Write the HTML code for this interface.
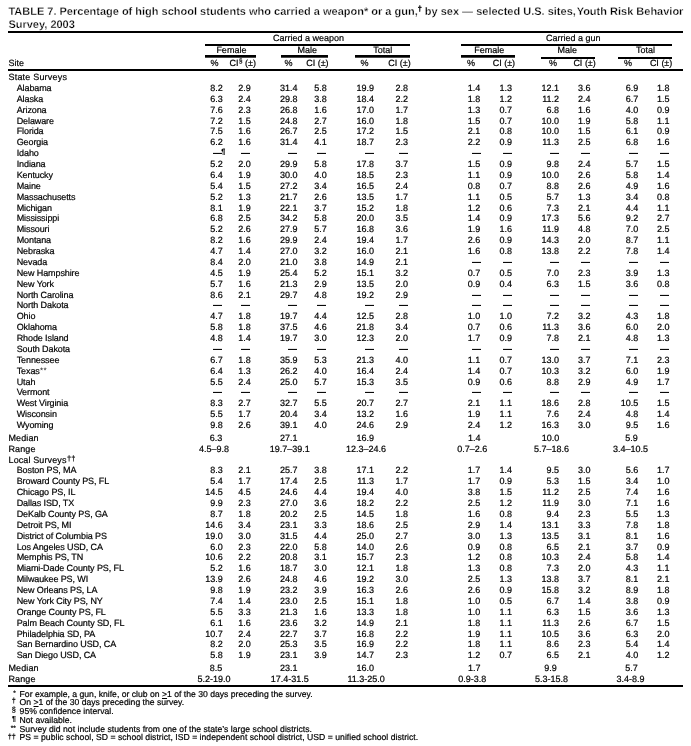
<!DOCTYPE html>
<html><head><meta charset="utf-8"><title>TABLE 7</title>
<style>
html,body{margin:0;padding:0;background:#fff;}
body{width:691px;height:746px;position:relative;overflow:hidden;will-change:transform;text-rendering:geometricPrecision;font-family:"Liberation Sans",sans-serif;color:#000;}
div{position:absolute;white-space:nowrap;margin:0;padding:0;-webkit-text-stroke:0.2px #000;}
.r{font-size:0;line-height:0;}
.b{font-weight:bold;-webkit-text-stroke:0.28px #fff;}
sup{font-size:84%;vertical-align:baseline;position:relative;top:-0.3em;line-height:0;letter-spacing:0;margin-left:0.4px;}
.s2{font-size:70%;top:-0.4em;}
.s3{font-size:66%;top:-0.5em;margin-left:0;-webkit-text-stroke:0.35px #000;}
u{text-decoration:underline;}
</style></head><body>
<div class="b t1" style="left:8.40px;top:6px;font-size:11.0px;line-height:12px;">TABLE 7. Percentage of high school students who carried a weapon* or a gun,<sup class="s3">†</sup> by sex — selected U.S. sites,<span style="margin-left:0.8px"></span>Youth Risk Behavior</div>
<div class="b t1" style="left:8.40px;top:19px;font-size:11.0px;line-height:12px;">Survey, 2003</div>
<div class="r" style="left:8.00px;top:31.00px;width:675.00px;height:2.00px;background:#000"></div>
<div class="r" style="left:8.00px;top:69.00px;width:675.00px;height:2.00px;background:#000"></div>
<div class="r" style="left:8.00px;top:685.00px;width:675.00px;height:2.00px;background:#000"></div>
<div class="r" style="left:205.00px;top:44.00px;width:205.00px;height:2.00px;background:#000"></div>
<div class="r" style="left:461.00px;top:44.00px;width:211.00px;height:2.00px;background:#000"></div>
<div class="r" style="left:205.00px;top:55.00px;width:51.00px;height:2.00px;background:#000"></div>
<div class="r" style="left:205.00px;top:57.00px;width:51.00px;height:1.00px;background:#4a4a4a"></div>
<div class="r" style="left:281.00px;top:55.00px;width:47.00px;height:2.00px;background:#000"></div>
<div class="r" style="left:281.00px;top:57.00px;width:47.00px;height:1.00px;background:#4a4a4a"></div>
<div class="r" style="left:355.00px;top:55.00px;width:55.00px;height:2.00px;background:#000"></div>
<div class="r" style="left:355.00px;top:57.00px;width:55.00px;height:1.00px;background:#4a4a4a"></div>
<div class="r" style="left:461.00px;top:55.00px;width:54.00px;height:2.00px;background:#000"></div>
<div class="r" style="left:461.00px;top:57.00px;width:54.00px;height:1.00px;background:#4a4a4a"></div>
<div class="r" style="left:541.00px;top:57.00px;width:54.00px;height:2.00px;background:#000"></div>
<div class="r" style="left:618.00px;top:57.00px;width:54.00px;height:2.00px;background:#000"></div>
<div style="left:208.60px;width:200px;text-align:center;top:33px;font-size:9.0px;line-height:10px;">Carried a weapon</div>
<div style="left:473.30px;width:200px;text-align:center;top:33px;font-size:9.0px;line-height:10px;">Carried a gun</div>
<div style="left:131.40px;width:200px;text-align:center;top:45px;font-size:9.0px;line-height:10px;">Female</div>
<div style="left:207.20px;width:200px;text-align:center;top:45px;font-size:9.0px;line-height:10px;">Male</div>
<div style="left:282.80px;width:200px;text-align:center;top:45px;font-size:9.0px;line-height:10px;">Total</div>
<div style="left:389.20px;width:200px;text-align:center;top:45px;font-size:9.0px;line-height:10px;">Female</div>
<div style="left:467.20px;width:200px;text-align:center;top:45px;font-size:9.0px;line-height:10px;">Male</div>
<div style="left:545.50px;width:200px;text-align:center;top:45px;font-size:9.0px;line-height:10px;">Total</div>
<div style="left:8.50px;top:58px;font-size:9.0px;line-height:10px;">Site</div>
<div style="left:210.60px;top:58px;font-size:9.0px;line-height:10px;">%</div>
<div style="right:435.10px;top:58px;font-size:9.0px;line-height:10px;">CI<sup class="s2">§</sup> (±)</div>
<div style="left:284.50px;top:58px;font-size:9.0px;line-height:10px;">%</div>
<div style="right:362.40px;top:58px;font-size:9.0px;line-height:10px;">CI (±)</div>
<div style="left:360.60px;top:58px;font-size:9.0px;line-height:10px;">%</div>
<div style="right:280.30px;top:58px;font-size:9.0px;line-height:10px;">CI (±)</div>
<div style="left:467.00px;top:58px;font-size:9.0px;line-height:10px;">%</div>
<div style="right:175.90px;top:58px;font-size:9.0px;line-height:10px;">CI (±)</div>
<div style="left:549.00px;top:58px;font-size:9.0px;line-height:10px;">%</div>
<div style="right:95.20px;top:58px;font-size:9.0px;line-height:10px;">CI (±)</div>
<div style="left:624.10px;top:58px;font-size:9.0px;line-height:10px;">%</div>
<div style="right:18.70px;top:58px;font-size:9.0px;line-height:10px;">CI (±)</div>
<div style="left:8.50px;top:72px;font-size:9.0px;line-height:10px;letter-spacing:0.2px;">State Surveys</div>
<div style="left:16.70px;top:83px;font-size:9.0px;line-height:10px;letter-spacing:-0.1px;">Alabama</div>
<div style="right:468.30px;top:83px;font-size:9.0px;line-height:10px;">8.2</div>
<div style="right:440.30px;top:83px;font-size:9.0px;line-height:10px;">2.9</div>
<div style="right:393.60px;top:83px;font-size:9.0px;line-height:10px;">31.4</div>
<div style="right:364.30px;top:83px;font-size:9.0px;line-height:10px;">5.8</div>
<div style="right:317.00px;top:83px;font-size:9.0px;line-height:10px;">19.9</div>
<div style="right:282.90px;top:83px;font-size:9.0px;line-height:10px;">2.8</div>
<div style="right:210.70px;top:83px;font-size:9.0px;line-height:10px;">1.4</div>
<div style="right:179.00px;top:83px;font-size:9.0px;line-height:10px;">1.3</div>
<div style="right:131.90px;top:83px;font-size:9.0px;line-height:10px;">12.1</div>
<div style="right:100.40px;top:83px;font-size:9.0px;line-height:10px;">3.6</div>
<div style="right:52.70px;top:83px;font-size:9.0px;line-height:10px;">6.9</div>
<div style="right:21.40px;top:83px;font-size:9.0px;line-height:10px;">1.8</div>
<div style="left:16.70px;top:94px;font-size:9.0px;line-height:10px;letter-spacing:-0.1px;">Alaska</div>
<div style="right:468.30px;top:94px;font-size:9.0px;line-height:10px;">6.3</div>
<div style="right:440.30px;top:94px;font-size:9.0px;line-height:10px;">2.4</div>
<div style="right:393.60px;top:94px;font-size:9.0px;line-height:10px;">29.8</div>
<div style="right:364.30px;top:94px;font-size:9.0px;line-height:10px;">3.8</div>
<div style="right:317.00px;top:94px;font-size:9.0px;line-height:10px;">18.4</div>
<div style="right:282.90px;top:94px;font-size:9.0px;line-height:10px;">2.2</div>
<div style="right:210.70px;top:94px;font-size:9.0px;line-height:10px;">1.8</div>
<div style="right:179.00px;top:94px;font-size:9.0px;line-height:10px;">1.2</div>
<div style="right:131.90px;top:94px;font-size:9.0px;line-height:10px;">11.2</div>
<div style="right:100.40px;top:94px;font-size:9.0px;line-height:10px;">2.4</div>
<div style="right:52.70px;top:94px;font-size:9.0px;line-height:10px;">6.7</div>
<div style="right:21.40px;top:94px;font-size:9.0px;line-height:10px;">1.5</div>
<div style="left:16.70px;top:105px;font-size:9.0px;line-height:10px;letter-spacing:-0.1px;">Arizona</div>
<div style="right:468.30px;top:105px;font-size:9.0px;line-height:10px;">7.6</div>
<div style="right:440.30px;top:105px;font-size:9.0px;line-height:10px;">2.3</div>
<div style="right:393.60px;top:105px;font-size:9.0px;line-height:10px;">26.8</div>
<div style="right:364.30px;top:105px;font-size:9.0px;line-height:10px;">1.6</div>
<div style="right:317.00px;top:105px;font-size:9.0px;line-height:10px;">17.0</div>
<div style="right:282.90px;top:105px;font-size:9.0px;line-height:10px;">1.7</div>
<div style="right:210.70px;top:105px;font-size:9.0px;line-height:10px;">1.3</div>
<div style="right:179.00px;top:105px;font-size:9.0px;line-height:10px;">0.7</div>
<div style="right:131.90px;top:105px;font-size:9.0px;line-height:10px;">6.8</div>
<div style="right:100.40px;top:105px;font-size:9.0px;line-height:10px;">1.6</div>
<div style="right:52.70px;top:105px;font-size:9.0px;line-height:10px;">4.0</div>
<div style="right:21.40px;top:105px;font-size:9.0px;line-height:10px;">0.9</div>
<div style="left:16.70px;top:116px;font-size:9.0px;line-height:10px;letter-spacing:-0.1px;">Delaware</div>
<div style="right:468.30px;top:116px;font-size:9.0px;line-height:10px;">7.2</div>
<div style="right:440.30px;top:116px;font-size:9.0px;line-height:10px;">1.5</div>
<div style="right:393.60px;top:116px;font-size:9.0px;line-height:10px;">24.8</div>
<div style="right:364.30px;top:116px;font-size:9.0px;line-height:10px;">2.7</div>
<div style="right:317.00px;top:116px;font-size:9.0px;line-height:10px;">16.0</div>
<div style="right:282.90px;top:116px;font-size:9.0px;line-height:10px;">1.8</div>
<div style="right:210.70px;top:116px;font-size:9.0px;line-height:10px;">1.5</div>
<div style="right:179.00px;top:116px;font-size:9.0px;line-height:10px;">0.7</div>
<div style="right:131.90px;top:116px;font-size:9.0px;line-height:10px;">10.0</div>
<div style="right:100.40px;top:116px;font-size:9.0px;line-height:10px;">1.9</div>
<div style="right:52.70px;top:116px;font-size:9.0px;line-height:10px;">5.8</div>
<div style="right:21.40px;top:116px;font-size:9.0px;line-height:10px;">1.1</div>
<div style="left:16.70px;top:126px;font-size:9.0px;line-height:10px;letter-spacing:-0.1px;">Florida</div>
<div style="right:468.30px;top:126px;font-size:9.0px;line-height:10px;">7.5</div>
<div style="right:440.30px;top:126px;font-size:9.0px;line-height:10px;">1.6</div>
<div style="right:393.60px;top:126px;font-size:9.0px;line-height:10px;">26.7</div>
<div style="right:364.30px;top:126px;font-size:9.0px;line-height:10px;">2.5</div>
<div style="right:317.00px;top:126px;font-size:9.0px;line-height:10px;">17.2</div>
<div style="right:282.90px;top:126px;font-size:9.0px;line-height:10px;">1.5</div>
<div style="right:210.70px;top:126px;font-size:9.0px;line-height:10px;">2.1</div>
<div style="right:179.00px;top:126px;font-size:9.0px;line-height:10px;">0.8</div>
<div style="right:131.90px;top:126px;font-size:9.0px;line-height:10px;">10.0</div>
<div style="right:100.40px;top:126px;font-size:9.0px;line-height:10px;">1.5</div>
<div style="right:52.70px;top:126px;font-size:9.0px;line-height:10px;">6.1</div>
<div style="right:21.40px;top:126px;font-size:9.0px;line-height:10px;">0.9</div>
<div style="left:16.70px;top:137px;font-size:9.0px;line-height:10px;letter-spacing:-0.1px;">Georgia</div>
<div style="right:468.30px;top:137px;font-size:9.0px;line-height:10px;">6.2</div>
<div style="right:440.30px;top:137px;font-size:9.0px;line-height:10px;">1.6</div>
<div style="right:393.60px;top:137px;font-size:9.0px;line-height:10px;">31.4</div>
<div style="right:364.30px;top:137px;font-size:9.0px;line-height:10px;">4.1</div>
<div style="right:317.00px;top:137px;font-size:9.0px;line-height:10px;">18.7</div>
<div style="right:282.90px;top:137px;font-size:9.0px;line-height:10px;">2.3</div>
<div style="right:210.70px;top:137px;font-size:9.0px;line-height:10px;">2.2</div>
<div style="right:179.00px;top:137px;font-size:9.0px;line-height:10px;">0.9</div>
<div style="right:131.90px;top:137px;font-size:9.0px;line-height:10px;">11.3</div>
<div style="right:100.40px;top:137px;font-size:9.0px;line-height:10px;">2.5</div>
<div style="right:52.70px;top:137px;font-size:9.0px;line-height:10px;">6.8</div>
<div style="right:21.40px;top:137px;font-size:9.0px;line-height:10px;">1.6</div>
<div style="left:16.70px;top:148px;font-size:9.0px;line-height:10px;letter-spacing:-0.1px;">Idaho</div>
<div class="r" style="left:213.00px;top:153.00px;width:9.00px;height:1.00px;background:#0a0a0a"></div>
<div class="r" style="left:213.00px;top:152.00px;width:9.00px;height:1.00px;background:#e4e4e4"></div>
<div class="r" style="left:241.00px;top:153.00px;width:9.00px;height:1.00px;background:#0a0a0a"></div>
<div class="r" style="left:241.00px;top:152.00px;width:9.00px;height:1.00px;background:#e4e4e4"></div>
<div class="r" style="left:288.00px;top:153.00px;width:9.00px;height:1.00px;background:#0a0a0a"></div>
<div class="r" style="left:288.00px;top:152.00px;width:9.00px;height:1.00px;background:#e4e4e4"></div>
<div class="r" style="left:317.00px;top:153.00px;width:9.00px;height:1.00px;background:#0a0a0a"></div>
<div class="r" style="left:317.00px;top:152.00px;width:9.00px;height:1.00px;background:#e4e4e4"></div>
<div class="r" style="left:365.00px;top:153.00px;width:9.00px;height:1.00px;background:#0a0a0a"></div>
<div class="r" style="left:365.00px;top:152.00px;width:9.00px;height:1.00px;background:#e4e4e4"></div>
<div class="r" style="left:399.00px;top:153.00px;width:9.00px;height:1.00px;background:#0a0a0a"></div>
<div class="r" style="left:399.00px;top:152.00px;width:9.00px;height:1.00px;background:#e4e4e4"></div>
<div class="r" style="left:472.00px;top:153.00px;width:9.00px;height:1.00px;background:#0a0a0a"></div>
<div class="r" style="left:472.00px;top:152.00px;width:9.00px;height:1.00px;background:#e4e4e4"></div>
<div class="r" style="left:503.00px;top:153.00px;width:9.00px;height:1.00px;background:#0a0a0a"></div>
<div class="r" style="left:503.00px;top:152.00px;width:9.00px;height:1.00px;background:#e4e4e4"></div>
<div class="r" style="left:550.00px;top:153.00px;width:9.00px;height:1.00px;background:#0a0a0a"></div>
<div class="r" style="left:550.00px;top:152.00px;width:9.00px;height:1.00px;background:#e4e4e4"></div>
<div class="r" style="left:581.00px;top:153.00px;width:9.00px;height:1.00px;background:#0a0a0a"></div>
<div class="r" style="left:581.00px;top:152.00px;width:9.00px;height:1.00px;background:#e4e4e4"></div>
<div class="r" style="left:629.00px;top:153.00px;width:9.00px;height:1.00px;background:#0a0a0a"></div>
<div class="r" style="left:629.00px;top:152.00px;width:9.00px;height:1.00px;background:#e4e4e4"></div>
<div class="r" style="left:660.00px;top:153.00px;width:9.00px;height:1.00px;background:#0a0a0a"></div>
<div class="r" style="left:660.00px;top:152.00px;width:9.00px;height:1.00px;background:#e4e4e4"></div>
<div style="left:221.20px;top:147px;font-size:7.5px;line-height:9px;">¶</div>
<div style="left:16.70px;top:159px;font-size:9.0px;line-height:10px;letter-spacing:-0.1px;">Indiana</div>
<div style="right:468.30px;top:159px;font-size:9.0px;line-height:10px;">5.2</div>
<div style="right:440.30px;top:159px;font-size:9.0px;line-height:10px;">2.0</div>
<div style="right:393.60px;top:159px;font-size:9.0px;line-height:10px;">29.9</div>
<div style="right:364.30px;top:159px;font-size:9.0px;line-height:10px;">5.8</div>
<div style="right:317.00px;top:159px;font-size:9.0px;line-height:10px;">17.8</div>
<div style="right:282.90px;top:159px;font-size:9.0px;line-height:10px;">3.7</div>
<div style="right:210.70px;top:159px;font-size:9.0px;line-height:10px;">1.5</div>
<div style="right:179.00px;top:159px;font-size:9.0px;line-height:10px;">0.9</div>
<div style="right:131.90px;top:159px;font-size:9.0px;line-height:10px;">9.8</div>
<div style="right:100.40px;top:159px;font-size:9.0px;line-height:10px;">2.4</div>
<div style="right:52.70px;top:159px;font-size:9.0px;line-height:10px;">5.7</div>
<div style="right:21.40px;top:159px;font-size:9.0px;line-height:10px;">1.5</div>
<div style="left:16.70px;top:170px;font-size:9.0px;line-height:10px;letter-spacing:-0.1px;">Kentucky</div>
<div style="right:468.30px;top:170px;font-size:9.0px;line-height:10px;">6.4</div>
<div style="right:440.30px;top:170px;font-size:9.0px;line-height:10px;">1.9</div>
<div style="right:393.60px;top:170px;font-size:9.0px;line-height:10px;">30.0</div>
<div style="right:364.30px;top:170px;font-size:9.0px;line-height:10px;">4.0</div>
<div style="right:317.00px;top:170px;font-size:9.0px;line-height:10px;">18.5</div>
<div style="right:282.90px;top:170px;font-size:9.0px;line-height:10px;">2.3</div>
<div style="right:210.70px;top:170px;font-size:9.0px;line-height:10px;">1.1</div>
<div style="right:179.00px;top:170px;font-size:9.0px;line-height:10px;">0.9</div>
<div style="right:131.90px;top:170px;font-size:9.0px;line-height:10px;">10.0</div>
<div style="right:100.40px;top:170px;font-size:9.0px;line-height:10px;">2.6</div>
<div style="right:52.70px;top:170px;font-size:9.0px;line-height:10px;">5.8</div>
<div style="right:21.40px;top:170px;font-size:9.0px;line-height:10px;">1.4</div>
<div style="left:16.70px;top:181px;font-size:9.0px;line-height:10px;letter-spacing:-0.1px;">Maine</div>
<div style="right:468.30px;top:181px;font-size:9.0px;line-height:10px;">5.4</div>
<div style="right:440.30px;top:181px;font-size:9.0px;line-height:10px;">1.5</div>
<div style="right:393.60px;top:181px;font-size:9.0px;line-height:10px;">27.2</div>
<div style="right:364.30px;top:181px;font-size:9.0px;line-height:10px;">3.4</div>
<div style="right:317.00px;top:181px;font-size:9.0px;line-height:10px;">16.5</div>
<div style="right:282.90px;top:181px;font-size:9.0px;line-height:10px;">2.4</div>
<div style="right:210.70px;top:181px;font-size:9.0px;line-height:10px;">0.8</div>
<div style="right:179.00px;top:181px;font-size:9.0px;line-height:10px;">0.7</div>
<div style="right:131.90px;top:181px;font-size:9.0px;line-height:10px;">8.8</div>
<div style="right:100.40px;top:181px;font-size:9.0px;line-height:10px;">2.6</div>
<div style="right:52.70px;top:181px;font-size:9.0px;line-height:10px;">4.9</div>
<div style="right:21.40px;top:181px;font-size:9.0px;line-height:10px;">1.6</div>
<div style="left:16.70px;top:192px;font-size:9.0px;line-height:10px;letter-spacing:-0.1px;">Massachusetts</div>
<div style="right:468.30px;top:192px;font-size:9.0px;line-height:10px;">5.2</div>
<div style="right:440.30px;top:192px;font-size:9.0px;line-height:10px;">1.3</div>
<div style="right:393.60px;top:192px;font-size:9.0px;line-height:10px;">21.7</div>
<div style="right:364.30px;top:192px;font-size:9.0px;line-height:10px;">2.6</div>
<div style="right:317.00px;top:192px;font-size:9.0px;line-height:10px;">13.5</div>
<div style="right:282.90px;top:192px;font-size:9.0px;line-height:10px;">1.7</div>
<div style="right:210.70px;top:192px;font-size:9.0px;line-height:10px;">1.1</div>
<div style="right:179.00px;top:192px;font-size:9.0px;line-height:10px;">0.5</div>
<div style="right:131.90px;top:192px;font-size:9.0px;line-height:10px;">5.7</div>
<div style="right:100.40px;top:192px;font-size:9.0px;line-height:10px;">1.3</div>
<div style="right:52.70px;top:192px;font-size:9.0px;line-height:10px;">3.4</div>
<div style="right:21.40px;top:192px;font-size:9.0px;line-height:10px;">0.8</div>
<div style="left:16.70px;top:203px;font-size:9.0px;line-height:10px;letter-spacing:-0.1px;">Michigan</div>
<div style="right:468.30px;top:203px;font-size:9.0px;line-height:10px;">8.1</div>
<div style="right:440.30px;top:203px;font-size:9.0px;line-height:10px;">1.9</div>
<div style="right:393.60px;top:203px;font-size:9.0px;line-height:10px;">22.1</div>
<div style="right:364.30px;top:203px;font-size:9.0px;line-height:10px;">3.7</div>
<div style="right:317.00px;top:203px;font-size:9.0px;line-height:10px;">15.2</div>
<div style="right:282.90px;top:203px;font-size:9.0px;line-height:10px;">1.8</div>
<div style="right:210.70px;top:203px;font-size:9.0px;line-height:10px;">1.2</div>
<div style="right:179.00px;top:203px;font-size:9.0px;line-height:10px;">0.6</div>
<div style="right:131.90px;top:203px;font-size:9.0px;line-height:10px;">7.3</div>
<div style="right:100.40px;top:203px;font-size:9.0px;line-height:10px;">2.1</div>
<div style="right:52.70px;top:203px;font-size:9.0px;line-height:10px;">4.4</div>
<div style="right:21.40px;top:203px;font-size:9.0px;line-height:10px;">1.1</div>
<div style="left:16.70px;top:213px;font-size:9.0px;line-height:10px;letter-spacing:-0.1px;">Mississippi</div>
<div style="right:468.30px;top:213px;font-size:9.0px;line-height:10px;">6.8</div>
<div style="right:440.30px;top:213px;font-size:9.0px;line-height:10px;">2.5</div>
<div style="right:393.60px;top:213px;font-size:9.0px;line-height:10px;">34.2</div>
<div style="right:364.30px;top:213px;font-size:9.0px;line-height:10px;">5.8</div>
<div style="right:317.00px;top:213px;font-size:9.0px;line-height:10px;">20.0</div>
<div style="right:282.90px;top:213px;font-size:9.0px;line-height:10px;">3.5</div>
<div style="right:210.70px;top:213px;font-size:9.0px;line-height:10px;">1.4</div>
<div style="right:179.00px;top:213px;font-size:9.0px;line-height:10px;">0.9</div>
<div style="right:131.90px;top:213px;font-size:9.0px;line-height:10px;">17.3</div>
<div style="right:100.40px;top:213px;font-size:9.0px;line-height:10px;">5.6</div>
<div style="right:52.70px;top:213px;font-size:9.0px;line-height:10px;">9.2</div>
<div style="right:21.40px;top:213px;font-size:9.0px;line-height:10px;">2.7</div>
<div style="left:16.70px;top:224px;font-size:9.0px;line-height:10px;letter-spacing:-0.1px;">Missouri</div>
<div style="right:468.30px;top:224px;font-size:9.0px;line-height:10px;">5.2</div>
<div style="right:440.30px;top:224px;font-size:9.0px;line-height:10px;">2.6</div>
<div style="right:393.60px;top:224px;font-size:9.0px;line-height:10px;">27.9</div>
<div style="right:364.30px;top:224px;font-size:9.0px;line-height:10px;">5.7</div>
<div style="right:317.00px;top:224px;font-size:9.0px;line-height:10px;">16.8</div>
<div style="right:282.90px;top:224px;font-size:9.0px;line-height:10px;">3.6</div>
<div style="right:210.70px;top:224px;font-size:9.0px;line-height:10px;">1.9</div>
<div style="right:179.00px;top:224px;font-size:9.0px;line-height:10px;">1.6</div>
<div style="right:131.90px;top:224px;font-size:9.0px;line-height:10px;">11.9</div>
<div style="right:100.40px;top:224px;font-size:9.0px;line-height:10px;">4.8</div>
<div style="right:52.70px;top:224px;font-size:9.0px;line-height:10px;">7.0</div>
<div style="right:21.40px;top:224px;font-size:9.0px;line-height:10px;">2.5</div>
<div style="left:16.70px;top:235px;font-size:9.0px;line-height:10px;letter-spacing:-0.1px;">Montana</div>
<div style="right:468.30px;top:235px;font-size:9.0px;line-height:10px;">8.2</div>
<div style="right:440.30px;top:235px;font-size:9.0px;line-height:10px;">1.6</div>
<div style="right:393.60px;top:235px;font-size:9.0px;line-height:10px;">29.9</div>
<div style="right:364.30px;top:235px;font-size:9.0px;line-height:10px;">2.4</div>
<div style="right:317.00px;top:235px;font-size:9.0px;line-height:10px;">19.4</div>
<div style="right:282.90px;top:235px;font-size:9.0px;line-height:10px;">1.7</div>
<div style="right:210.70px;top:235px;font-size:9.0px;line-height:10px;">2.6</div>
<div style="right:179.00px;top:235px;font-size:9.0px;line-height:10px;">0.9</div>
<div style="right:131.90px;top:235px;font-size:9.0px;line-height:10px;">14.3</div>
<div style="right:100.40px;top:235px;font-size:9.0px;line-height:10px;">2.0</div>
<div style="right:52.70px;top:235px;font-size:9.0px;line-height:10px;">8.7</div>
<div style="right:21.40px;top:235px;font-size:9.0px;line-height:10px;">1.1</div>
<div style="left:16.70px;top:246px;font-size:9.0px;line-height:10px;letter-spacing:-0.1px;">Nebraska</div>
<div style="right:468.30px;top:246px;font-size:9.0px;line-height:10px;">4.7</div>
<div style="right:440.30px;top:246px;font-size:9.0px;line-height:10px;">1.4</div>
<div style="right:393.60px;top:246px;font-size:9.0px;line-height:10px;">27.0</div>
<div style="right:364.30px;top:246px;font-size:9.0px;line-height:10px;">3.2</div>
<div style="right:317.00px;top:246px;font-size:9.0px;line-height:10px;">16.0</div>
<div style="right:282.90px;top:246px;font-size:9.0px;line-height:10px;">2.1</div>
<div style="right:210.70px;top:246px;font-size:9.0px;line-height:10px;">1.6</div>
<div style="right:179.00px;top:246px;font-size:9.0px;line-height:10px;">0.8</div>
<div style="right:131.90px;top:246px;font-size:9.0px;line-height:10px;">13.8</div>
<div style="right:100.40px;top:246px;font-size:9.0px;line-height:10px;">2.2</div>
<div style="right:52.70px;top:246px;font-size:9.0px;line-height:10px;">7.8</div>
<div style="right:21.40px;top:246px;font-size:9.0px;line-height:10px;">1.4</div>
<div style="left:16.70px;top:257px;font-size:9.0px;line-height:10px;letter-spacing:-0.1px;">Nevada</div>
<div style="right:468.30px;top:257px;font-size:9.0px;line-height:10px;">8.4</div>
<div style="right:440.30px;top:257px;font-size:9.0px;line-height:10px;">2.0</div>
<div style="right:393.60px;top:257px;font-size:9.0px;line-height:10px;">21.0</div>
<div style="right:364.30px;top:257px;font-size:9.0px;line-height:10px;">3.8</div>
<div style="right:317.00px;top:257px;font-size:9.0px;line-height:10px;">14.9</div>
<div style="right:282.90px;top:257px;font-size:9.0px;line-height:10px;">2.1</div>
<div class="r" style="left:472.00px;top:262.00px;width:9.00px;height:1.00px;background:#0a0a0a"></div>
<div class="r" style="left:472.00px;top:261.00px;width:9.00px;height:1.00px;background:#e4e4e4"></div>
<div class="r" style="left:503.00px;top:262.00px;width:9.00px;height:1.00px;background:#0a0a0a"></div>
<div class="r" style="left:503.00px;top:261.00px;width:9.00px;height:1.00px;background:#e4e4e4"></div>
<div class="r" style="left:550.00px;top:262.00px;width:9.00px;height:1.00px;background:#0a0a0a"></div>
<div class="r" style="left:550.00px;top:261.00px;width:9.00px;height:1.00px;background:#e4e4e4"></div>
<div class="r" style="left:581.00px;top:262.00px;width:9.00px;height:1.00px;background:#0a0a0a"></div>
<div class="r" style="left:581.00px;top:261.00px;width:9.00px;height:1.00px;background:#e4e4e4"></div>
<div class="r" style="left:629.00px;top:262.00px;width:9.00px;height:1.00px;background:#0a0a0a"></div>
<div class="r" style="left:629.00px;top:261.00px;width:9.00px;height:1.00px;background:#e4e4e4"></div>
<div class="r" style="left:660.00px;top:262.00px;width:9.00px;height:1.00px;background:#0a0a0a"></div>
<div class="r" style="left:660.00px;top:261.00px;width:9.00px;height:1.00px;background:#e4e4e4"></div>
<div style="left:16.70px;top:268px;font-size:9.0px;line-height:10px;letter-spacing:-0.1px;">New Hampshire</div>
<div style="right:468.30px;top:268px;font-size:9.0px;line-height:10px;">4.5</div>
<div style="right:440.30px;top:268px;font-size:9.0px;line-height:10px;">1.9</div>
<div style="right:393.60px;top:268px;font-size:9.0px;line-height:10px;">25.4</div>
<div style="right:364.30px;top:268px;font-size:9.0px;line-height:10px;">5.2</div>
<div style="right:317.00px;top:268px;font-size:9.0px;line-height:10px;">15.1</div>
<div style="right:282.90px;top:268px;font-size:9.0px;line-height:10px;">3.2</div>
<div style="right:210.70px;top:268px;font-size:9.0px;line-height:10px;">0.7</div>
<div style="right:179.00px;top:268px;font-size:9.0px;line-height:10px;">0.5</div>
<div style="right:131.90px;top:268px;font-size:9.0px;line-height:10px;">7.0</div>
<div style="right:100.40px;top:268px;font-size:9.0px;line-height:10px;">2.3</div>
<div style="right:52.70px;top:268px;font-size:9.0px;line-height:10px;">3.9</div>
<div style="right:21.40px;top:268px;font-size:9.0px;line-height:10px;">1.3</div>
<div style="left:16.70px;top:279px;font-size:9.0px;line-height:10px;letter-spacing:-0.1px;">New York</div>
<div style="right:468.30px;top:279px;font-size:9.0px;line-height:10px;">5.7</div>
<div style="right:440.30px;top:279px;font-size:9.0px;line-height:10px;">1.6</div>
<div style="right:393.60px;top:279px;font-size:9.0px;line-height:10px;">21.3</div>
<div style="right:364.30px;top:279px;font-size:9.0px;line-height:10px;">2.9</div>
<div style="right:317.00px;top:279px;font-size:9.0px;line-height:10px;">13.5</div>
<div style="right:282.90px;top:279px;font-size:9.0px;line-height:10px;">2.0</div>
<div style="right:210.70px;top:279px;font-size:9.0px;line-height:10px;">0.9</div>
<div style="right:179.00px;top:279px;font-size:9.0px;line-height:10px;">0.4</div>
<div style="right:131.90px;top:279px;font-size:9.0px;line-height:10px;">6.3</div>
<div style="right:100.40px;top:279px;font-size:9.0px;line-height:10px;">1.5</div>
<div style="right:52.70px;top:279px;font-size:9.0px;line-height:10px;">3.6</div>
<div style="right:21.40px;top:279px;font-size:9.0px;line-height:10px;">0.8</div>
<div style="left:16.70px;top:290px;font-size:9.0px;line-height:10px;letter-spacing:-0.1px;">North Carolina</div>
<div style="right:468.30px;top:290px;font-size:9.0px;line-height:10px;">8.6</div>
<div style="right:440.30px;top:290px;font-size:9.0px;line-height:10px;">2.1</div>
<div style="right:393.60px;top:290px;font-size:9.0px;line-height:10px;">29.7</div>
<div style="right:364.30px;top:290px;font-size:9.0px;line-height:10px;">4.8</div>
<div style="right:317.00px;top:290px;font-size:9.0px;line-height:10px;">19.2</div>
<div style="right:282.90px;top:290px;font-size:9.0px;line-height:10px;">2.9</div>
<div class="r" style="left:472.00px;top:295.00px;width:9.00px;height:1.00px;background:#0a0a0a"></div>
<div class="r" style="left:472.00px;top:294.00px;width:9.00px;height:1.00px;background:#e4e4e4"></div>
<div class="r" style="left:503.00px;top:295.00px;width:9.00px;height:1.00px;background:#0a0a0a"></div>
<div class="r" style="left:503.00px;top:294.00px;width:9.00px;height:1.00px;background:#e4e4e4"></div>
<div class="r" style="left:550.00px;top:295.00px;width:9.00px;height:1.00px;background:#0a0a0a"></div>
<div class="r" style="left:550.00px;top:294.00px;width:9.00px;height:1.00px;background:#e4e4e4"></div>
<div class="r" style="left:581.00px;top:295.00px;width:9.00px;height:1.00px;background:#0a0a0a"></div>
<div class="r" style="left:581.00px;top:294.00px;width:9.00px;height:1.00px;background:#e4e4e4"></div>
<div class="r" style="left:629.00px;top:295.00px;width:9.00px;height:1.00px;background:#0a0a0a"></div>
<div class="r" style="left:629.00px;top:294.00px;width:9.00px;height:1.00px;background:#e4e4e4"></div>
<div class="r" style="left:660.00px;top:295.00px;width:9.00px;height:1.00px;background:#0a0a0a"></div>
<div class="r" style="left:660.00px;top:294.00px;width:9.00px;height:1.00px;background:#e4e4e4"></div>
<div style="left:16.70px;top:300px;font-size:9.0px;line-height:10px;letter-spacing:-0.1px;">North Dakota</div>
<div class="r" style="left:213.00px;top:305.00px;width:9.00px;height:1.00px;background:#0a0a0a"></div>
<div class="r" style="left:213.00px;top:304.00px;width:9.00px;height:1.00px;background:#e4e4e4"></div>
<div class="r" style="left:241.00px;top:305.00px;width:9.00px;height:1.00px;background:#0a0a0a"></div>
<div class="r" style="left:241.00px;top:304.00px;width:9.00px;height:1.00px;background:#e4e4e4"></div>
<div class="r" style="left:288.00px;top:305.00px;width:9.00px;height:1.00px;background:#0a0a0a"></div>
<div class="r" style="left:288.00px;top:304.00px;width:9.00px;height:1.00px;background:#e4e4e4"></div>
<div class="r" style="left:317.00px;top:305.00px;width:9.00px;height:1.00px;background:#0a0a0a"></div>
<div class="r" style="left:317.00px;top:304.00px;width:9.00px;height:1.00px;background:#e4e4e4"></div>
<div class="r" style="left:365.00px;top:305.00px;width:9.00px;height:1.00px;background:#0a0a0a"></div>
<div class="r" style="left:365.00px;top:304.00px;width:9.00px;height:1.00px;background:#e4e4e4"></div>
<div class="r" style="left:399.00px;top:305.00px;width:9.00px;height:1.00px;background:#0a0a0a"></div>
<div class="r" style="left:399.00px;top:304.00px;width:9.00px;height:1.00px;background:#e4e4e4"></div>
<div class="r" style="left:472.00px;top:305.00px;width:9.00px;height:1.00px;background:#0a0a0a"></div>
<div class="r" style="left:472.00px;top:304.00px;width:9.00px;height:1.00px;background:#e4e4e4"></div>
<div class="r" style="left:503.00px;top:305.00px;width:9.00px;height:1.00px;background:#0a0a0a"></div>
<div class="r" style="left:503.00px;top:304.00px;width:9.00px;height:1.00px;background:#e4e4e4"></div>
<div class="r" style="left:550.00px;top:305.00px;width:9.00px;height:1.00px;background:#0a0a0a"></div>
<div class="r" style="left:550.00px;top:304.00px;width:9.00px;height:1.00px;background:#e4e4e4"></div>
<div class="r" style="left:581.00px;top:305.00px;width:9.00px;height:1.00px;background:#0a0a0a"></div>
<div class="r" style="left:581.00px;top:304.00px;width:9.00px;height:1.00px;background:#e4e4e4"></div>
<div class="r" style="left:629.00px;top:305.00px;width:9.00px;height:1.00px;background:#0a0a0a"></div>
<div class="r" style="left:629.00px;top:304.00px;width:9.00px;height:1.00px;background:#e4e4e4"></div>
<div class="r" style="left:660.00px;top:305.00px;width:9.00px;height:1.00px;background:#0a0a0a"></div>
<div class="r" style="left:660.00px;top:304.00px;width:9.00px;height:1.00px;background:#e4e4e4"></div>
<div style="left:16.70px;top:311px;font-size:9.0px;line-height:10px;letter-spacing:-0.1px;">Ohio</div>
<div style="right:468.30px;top:311px;font-size:9.0px;line-height:10px;">4.7</div>
<div style="right:440.30px;top:311px;font-size:9.0px;line-height:10px;">1.8</div>
<div style="right:393.60px;top:311px;font-size:9.0px;line-height:10px;">19.7</div>
<div style="right:364.30px;top:311px;font-size:9.0px;line-height:10px;">4.4</div>
<div style="right:317.00px;top:311px;font-size:9.0px;line-height:10px;">12.5</div>
<div style="right:282.90px;top:311px;font-size:9.0px;line-height:10px;">2.8</div>
<div style="right:210.70px;top:311px;font-size:9.0px;line-height:10px;">1.0</div>
<div style="right:179.00px;top:311px;font-size:9.0px;line-height:10px;">1.0</div>
<div style="right:131.90px;top:311px;font-size:9.0px;line-height:10px;">7.2</div>
<div style="right:100.40px;top:311px;font-size:9.0px;line-height:10px;">3.2</div>
<div style="right:52.70px;top:311px;font-size:9.0px;line-height:10px;">4.3</div>
<div style="right:21.40px;top:311px;font-size:9.0px;line-height:10px;">1.8</div>
<div style="left:16.70px;top:322px;font-size:9.0px;line-height:10px;letter-spacing:-0.1px;">Oklahoma</div>
<div style="right:468.30px;top:322px;font-size:9.0px;line-height:10px;">5.8</div>
<div style="right:440.30px;top:322px;font-size:9.0px;line-height:10px;">1.8</div>
<div style="right:393.60px;top:322px;font-size:9.0px;line-height:10px;">37.5</div>
<div style="right:364.30px;top:322px;font-size:9.0px;line-height:10px;">4.6</div>
<div style="right:317.00px;top:322px;font-size:9.0px;line-height:10px;">21.8</div>
<div style="right:282.90px;top:322px;font-size:9.0px;line-height:10px;">3.4</div>
<div style="right:210.70px;top:322px;font-size:9.0px;line-height:10px;">0.7</div>
<div style="right:179.00px;top:322px;font-size:9.0px;line-height:10px;">0.6</div>
<div style="right:131.90px;top:322px;font-size:9.0px;line-height:10px;">11.3</div>
<div style="right:100.40px;top:322px;font-size:9.0px;line-height:10px;">3.6</div>
<div style="right:52.70px;top:322px;font-size:9.0px;line-height:10px;">6.0</div>
<div style="right:21.40px;top:322px;font-size:9.0px;line-height:10px;">2.0</div>
<div style="left:16.70px;top:333px;font-size:9.0px;line-height:10px;letter-spacing:-0.1px;">Rhode Island</div>
<div style="right:468.30px;top:333px;font-size:9.0px;line-height:10px;">4.8</div>
<div style="right:440.30px;top:333px;font-size:9.0px;line-height:10px;">1.4</div>
<div style="right:393.60px;top:333px;font-size:9.0px;line-height:10px;">19.7</div>
<div style="right:364.30px;top:333px;font-size:9.0px;line-height:10px;">3.0</div>
<div style="right:317.00px;top:333px;font-size:9.0px;line-height:10px;">12.3</div>
<div style="right:282.90px;top:333px;font-size:9.0px;line-height:10px;">2.0</div>
<div style="right:210.70px;top:333px;font-size:9.0px;line-height:10px;">1.7</div>
<div style="right:179.00px;top:333px;font-size:9.0px;line-height:10px;">0.9</div>
<div style="right:131.90px;top:333px;font-size:9.0px;line-height:10px;">7.8</div>
<div style="right:100.40px;top:333px;font-size:9.0px;line-height:10px;">2.1</div>
<div style="right:52.70px;top:333px;font-size:9.0px;line-height:10px;">4.8</div>
<div style="right:21.40px;top:333px;font-size:9.0px;line-height:10px;">1.3</div>
<div style="left:16.70px;top:344px;font-size:9.0px;line-height:10px;letter-spacing:-0.1px;">South Dakota</div>
<div class="r" style="left:213.00px;top:349.00px;width:9.00px;height:1.00px;background:#0a0a0a"></div>
<div class="r" style="left:213.00px;top:348.00px;width:9.00px;height:1.00px;background:#e4e4e4"></div>
<div class="r" style="left:241.00px;top:349.00px;width:9.00px;height:1.00px;background:#0a0a0a"></div>
<div class="r" style="left:241.00px;top:348.00px;width:9.00px;height:1.00px;background:#e4e4e4"></div>
<div class="r" style="left:288.00px;top:349.00px;width:9.00px;height:1.00px;background:#0a0a0a"></div>
<div class="r" style="left:288.00px;top:348.00px;width:9.00px;height:1.00px;background:#e4e4e4"></div>
<div class="r" style="left:317.00px;top:349.00px;width:9.00px;height:1.00px;background:#0a0a0a"></div>
<div class="r" style="left:317.00px;top:348.00px;width:9.00px;height:1.00px;background:#e4e4e4"></div>
<div class="r" style="left:365.00px;top:349.00px;width:9.00px;height:1.00px;background:#0a0a0a"></div>
<div class="r" style="left:365.00px;top:348.00px;width:9.00px;height:1.00px;background:#e4e4e4"></div>
<div class="r" style="left:399.00px;top:349.00px;width:9.00px;height:1.00px;background:#0a0a0a"></div>
<div class="r" style="left:399.00px;top:348.00px;width:9.00px;height:1.00px;background:#e4e4e4"></div>
<div class="r" style="left:472.00px;top:349.00px;width:9.00px;height:1.00px;background:#0a0a0a"></div>
<div class="r" style="left:472.00px;top:348.00px;width:9.00px;height:1.00px;background:#e4e4e4"></div>
<div class="r" style="left:503.00px;top:349.00px;width:9.00px;height:1.00px;background:#0a0a0a"></div>
<div class="r" style="left:503.00px;top:348.00px;width:9.00px;height:1.00px;background:#e4e4e4"></div>
<div class="r" style="left:550.00px;top:349.00px;width:9.00px;height:1.00px;background:#0a0a0a"></div>
<div class="r" style="left:550.00px;top:348.00px;width:9.00px;height:1.00px;background:#e4e4e4"></div>
<div class="r" style="left:581.00px;top:349.00px;width:9.00px;height:1.00px;background:#0a0a0a"></div>
<div class="r" style="left:581.00px;top:348.00px;width:9.00px;height:1.00px;background:#e4e4e4"></div>
<div class="r" style="left:629.00px;top:349.00px;width:9.00px;height:1.00px;background:#0a0a0a"></div>
<div class="r" style="left:629.00px;top:348.00px;width:9.00px;height:1.00px;background:#e4e4e4"></div>
<div class="r" style="left:660.00px;top:349.00px;width:9.00px;height:1.00px;background:#0a0a0a"></div>
<div class="r" style="left:660.00px;top:348.00px;width:9.00px;height:1.00px;background:#e4e4e4"></div>
<div style="left:16.70px;top:355px;font-size:9.0px;line-height:10px;letter-spacing:-0.1px;">Tennessee</div>
<div style="right:468.30px;top:355px;font-size:9.0px;line-height:10px;">6.7</div>
<div style="right:440.30px;top:355px;font-size:9.0px;line-height:10px;">1.8</div>
<div style="right:393.60px;top:355px;font-size:9.0px;line-height:10px;">35.9</div>
<div style="right:364.30px;top:355px;font-size:9.0px;line-height:10px;">5.3</div>
<div style="right:317.00px;top:355px;font-size:9.0px;line-height:10px;">21.3</div>
<div style="right:282.90px;top:355px;font-size:9.0px;line-height:10px;">4.0</div>
<div style="right:210.70px;top:355px;font-size:9.0px;line-height:10px;">1.1</div>
<div style="right:179.00px;top:355px;font-size:9.0px;line-height:10px;">0.7</div>
<div style="right:131.90px;top:355px;font-size:9.0px;line-height:10px;">13.0</div>
<div style="right:100.40px;top:355px;font-size:9.0px;line-height:10px;">3.7</div>
<div style="right:52.70px;top:355px;font-size:9.0px;line-height:10px;">7.1</div>
<div style="right:21.40px;top:355px;font-size:9.0px;line-height:10px;">2.3</div>
<div style="left:16.70px;top:366px;font-size:9.0px;line-height:10px;letter-spacing:-0.1px;">Texas<span style="font-size:8px;-webkit-text-stroke:0;position:relative;top:-0.7px;letter-spacing:0.5px;margin-left:0.3px">**</span></div>
<div style="right:468.30px;top:366px;font-size:9.0px;line-height:10px;">6.4</div>
<div style="right:440.30px;top:366px;font-size:9.0px;line-height:10px;">1.3</div>
<div style="right:393.60px;top:366px;font-size:9.0px;line-height:10px;">26.2</div>
<div style="right:364.30px;top:366px;font-size:9.0px;line-height:10px;">4.0</div>
<div style="right:317.00px;top:366px;font-size:9.0px;line-height:10px;">16.4</div>
<div style="right:282.90px;top:366px;font-size:9.0px;line-height:10px;">2.4</div>
<div style="right:210.70px;top:366px;font-size:9.0px;line-height:10px;">1.4</div>
<div style="right:179.00px;top:366px;font-size:9.0px;line-height:10px;">0.7</div>
<div style="right:131.90px;top:366px;font-size:9.0px;line-height:10px;">10.3</div>
<div style="right:100.40px;top:366px;font-size:9.0px;line-height:10px;">3.2</div>
<div style="right:52.70px;top:366px;font-size:9.0px;line-height:10px;">6.0</div>
<div style="right:21.40px;top:366px;font-size:9.0px;line-height:10px;">1.9</div>
<div style="left:16.70px;top:377px;font-size:9.0px;line-height:10px;letter-spacing:-0.1px;">Utah</div>
<div style="right:468.30px;top:377px;font-size:9.0px;line-height:10px;">5.5</div>
<div style="right:440.30px;top:377px;font-size:9.0px;line-height:10px;">2.4</div>
<div style="right:393.60px;top:377px;font-size:9.0px;line-height:10px;">25.0</div>
<div style="right:364.30px;top:377px;font-size:9.0px;line-height:10px;">5.7</div>
<div style="right:317.00px;top:377px;font-size:9.0px;line-height:10px;">15.3</div>
<div style="right:282.90px;top:377px;font-size:9.0px;line-height:10px;">3.5</div>
<div style="right:210.70px;top:377px;font-size:9.0px;line-height:10px;">0.9</div>
<div style="right:179.00px;top:377px;font-size:9.0px;line-height:10px;">0.6</div>
<div style="right:131.90px;top:377px;font-size:9.0px;line-height:10px;">8.8</div>
<div style="right:100.40px;top:377px;font-size:9.0px;line-height:10px;">2.9</div>
<div style="right:52.70px;top:377px;font-size:9.0px;line-height:10px;">4.9</div>
<div style="right:21.40px;top:377px;font-size:9.0px;line-height:10px;">1.7</div>
<div style="left:16.70px;top:387px;font-size:9.0px;line-height:10px;letter-spacing:-0.1px;">Vermont</div>
<div class="r" style="left:213.00px;top:392.00px;width:9.00px;height:1.00px;background:#0a0a0a"></div>
<div class="r" style="left:213.00px;top:391.00px;width:9.00px;height:1.00px;background:#e4e4e4"></div>
<div class="r" style="left:241.00px;top:392.00px;width:9.00px;height:1.00px;background:#0a0a0a"></div>
<div class="r" style="left:241.00px;top:391.00px;width:9.00px;height:1.00px;background:#e4e4e4"></div>
<div class="r" style="left:288.00px;top:392.00px;width:9.00px;height:1.00px;background:#0a0a0a"></div>
<div class="r" style="left:288.00px;top:391.00px;width:9.00px;height:1.00px;background:#e4e4e4"></div>
<div class="r" style="left:317.00px;top:392.00px;width:9.00px;height:1.00px;background:#0a0a0a"></div>
<div class="r" style="left:317.00px;top:391.00px;width:9.00px;height:1.00px;background:#e4e4e4"></div>
<div class="r" style="left:365.00px;top:392.00px;width:9.00px;height:1.00px;background:#0a0a0a"></div>
<div class="r" style="left:365.00px;top:391.00px;width:9.00px;height:1.00px;background:#e4e4e4"></div>
<div class="r" style="left:399.00px;top:392.00px;width:9.00px;height:1.00px;background:#0a0a0a"></div>
<div class="r" style="left:399.00px;top:391.00px;width:9.00px;height:1.00px;background:#e4e4e4"></div>
<div class="r" style="left:472.00px;top:392.00px;width:9.00px;height:1.00px;background:#0a0a0a"></div>
<div class="r" style="left:472.00px;top:391.00px;width:9.00px;height:1.00px;background:#e4e4e4"></div>
<div class="r" style="left:503.00px;top:392.00px;width:9.00px;height:1.00px;background:#0a0a0a"></div>
<div class="r" style="left:503.00px;top:391.00px;width:9.00px;height:1.00px;background:#e4e4e4"></div>
<div class="r" style="left:550.00px;top:392.00px;width:9.00px;height:1.00px;background:#0a0a0a"></div>
<div class="r" style="left:550.00px;top:391.00px;width:9.00px;height:1.00px;background:#e4e4e4"></div>
<div class="r" style="left:581.00px;top:392.00px;width:9.00px;height:1.00px;background:#0a0a0a"></div>
<div class="r" style="left:581.00px;top:391.00px;width:9.00px;height:1.00px;background:#e4e4e4"></div>
<div class="r" style="left:629.00px;top:392.00px;width:9.00px;height:1.00px;background:#0a0a0a"></div>
<div class="r" style="left:629.00px;top:391.00px;width:9.00px;height:1.00px;background:#e4e4e4"></div>
<div class="r" style="left:660.00px;top:392.00px;width:9.00px;height:1.00px;background:#0a0a0a"></div>
<div class="r" style="left:660.00px;top:391.00px;width:9.00px;height:1.00px;background:#e4e4e4"></div>
<div style="left:16.70px;top:398px;font-size:9.0px;line-height:10px;letter-spacing:-0.1px;">West Virginia</div>
<div style="right:468.30px;top:398px;font-size:9.0px;line-height:10px;">8.3</div>
<div style="right:440.30px;top:398px;font-size:9.0px;line-height:10px;">2.7</div>
<div style="right:393.60px;top:398px;font-size:9.0px;line-height:10px;">32.7</div>
<div style="right:364.30px;top:398px;font-size:9.0px;line-height:10px;">5.5</div>
<div style="right:317.00px;top:398px;font-size:9.0px;line-height:10px;">20.7</div>
<div style="right:282.90px;top:398px;font-size:9.0px;line-height:10px;">2.7</div>
<div style="right:210.70px;top:398px;font-size:9.0px;line-height:10px;">2.1</div>
<div style="right:179.00px;top:398px;font-size:9.0px;line-height:10px;">1.1</div>
<div style="right:131.90px;top:398px;font-size:9.0px;line-height:10px;">18.6</div>
<div style="right:100.40px;top:398px;font-size:9.0px;line-height:10px;">2.8</div>
<div style="right:52.70px;top:398px;font-size:9.0px;line-height:10px;">10.5</div>
<div style="right:21.40px;top:398px;font-size:9.0px;line-height:10px;">1.5</div>
<div style="left:16.70px;top:409px;font-size:9.0px;line-height:10px;letter-spacing:-0.1px;">Wisconsin</div>
<div style="right:468.30px;top:409px;font-size:9.0px;line-height:10px;">5.5</div>
<div style="right:440.30px;top:409px;font-size:9.0px;line-height:10px;">1.7</div>
<div style="right:393.60px;top:409px;font-size:9.0px;line-height:10px;">20.4</div>
<div style="right:364.30px;top:409px;font-size:9.0px;line-height:10px;">3.4</div>
<div style="right:317.00px;top:409px;font-size:9.0px;line-height:10px;">13.2</div>
<div style="right:282.90px;top:409px;font-size:9.0px;line-height:10px;">1.6</div>
<div style="right:210.70px;top:409px;font-size:9.0px;line-height:10px;">1.9</div>
<div style="right:179.00px;top:409px;font-size:9.0px;line-height:10px;">1.1</div>
<div style="right:131.90px;top:409px;font-size:9.0px;line-height:10px;">7.6</div>
<div style="right:100.40px;top:409px;font-size:9.0px;line-height:10px;">2.4</div>
<div style="right:52.70px;top:409px;font-size:9.0px;line-height:10px;">4.8</div>
<div style="right:21.40px;top:409px;font-size:9.0px;line-height:10px;">1.4</div>
<div style="left:16.70px;top:420px;font-size:9.0px;line-height:10px;letter-spacing:-0.1px;">Wyoming</div>
<div style="right:468.30px;top:420px;font-size:9.0px;line-height:10px;">9.8</div>
<div style="right:440.30px;top:420px;font-size:9.0px;line-height:10px;">2.6</div>
<div style="right:393.60px;top:420px;font-size:9.0px;line-height:10px;">39.1</div>
<div style="right:364.30px;top:420px;font-size:9.0px;line-height:10px;">4.0</div>
<div style="right:317.00px;top:420px;font-size:9.0px;line-height:10px;">24.6</div>
<div style="right:282.90px;top:420px;font-size:9.0px;line-height:10px;">2.9</div>
<div style="right:210.70px;top:420px;font-size:9.0px;line-height:10px;">2.4</div>
<div style="right:179.00px;top:420px;font-size:9.0px;line-height:10px;">1.2</div>
<div style="right:131.90px;top:420px;font-size:9.0px;line-height:10px;">16.3</div>
<div style="right:100.40px;top:420px;font-size:9.0px;line-height:10px;">3.0</div>
<div style="right:52.70px;top:420px;font-size:9.0px;line-height:10px;">9.5</div>
<div style="right:21.40px;top:420px;font-size:9.0px;line-height:10px;">1.6</div>
<div style="left:8.50px;top:433px;font-size:9.0px;line-height:10px;letter-spacing:0.1px;">Median</div>
<div style="left:116.00px;width:200px;text-align:center;top:433px;font-size:9.0px;line-height:10px;">6.3</div>
<div style="left:188.80px;width:200px;text-align:center;top:433px;font-size:9.0px;line-height:10px;">27.1</div>
<div style="left:265.20px;width:200px;text-align:center;top:433px;font-size:9.0px;line-height:10px;">16.9</div>
<div style="left:374.30px;width:200px;text-align:center;top:433px;font-size:9.0px;line-height:10px;">1.4</div>
<div style="left:450.60px;width:200px;text-align:center;top:433px;font-size:9.0px;line-height:10px;">10.0</div>
<div style="left:531.60px;width:200px;text-align:center;top:433px;font-size:9.0px;line-height:10px;">5.9</div>
<div style="left:8.50px;top:444px;font-size:9.0px;line-height:10px;letter-spacing:0.1px;">Range</div>
<div style="left:114.10px;width:200px;text-align:center;top:444px;font-size:9.0px;line-height:10px;">4.5–9.8</div>
<div style="left:189.70px;width:200px;text-align:center;top:444px;font-size:9.0px;line-height:10px;">19.7–39.1</div>
<div style="left:266.10px;width:200px;text-align:center;top:444px;font-size:9.0px;line-height:10px;">12.3–24.6</div>
<div style="left:372.30px;width:200px;text-align:center;top:444px;font-size:9.0px;line-height:10px;">0.7–2.6</div>
<div style="left:451.50px;width:200px;text-align:center;top:444px;font-size:9.0px;line-height:10px;">5.7–18.6</div>
<div style="left:530.50px;width:200px;text-align:center;top:444px;font-size:9.0px;line-height:10px;">3.4–10.5</div>
<div style="left:8.50px;top:455px;font-size:9.0px;line-height:10px;letter-spacing:0.12px;">Local Surveys<sup>††</sup></div>
<div style="left:16.70px;top:465px;font-size:9.0px;line-height:10px;letter-spacing:-0.1px;">Boston PS, MA</div>
<div style="right:468.30px;top:465px;font-size:9.0px;line-height:10px;">8.3</div>
<div style="right:440.30px;top:465px;font-size:9.0px;line-height:10px;">2.1</div>
<div style="right:393.60px;top:465px;font-size:9.0px;line-height:10px;">25.7</div>
<div style="right:364.30px;top:465px;font-size:9.0px;line-height:10px;">3.8</div>
<div style="right:317.00px;top:465px;font-size:9.0px;line-height:10px;">17.1</div>
<div style="right:282.90px;top:465px;font-size:9.0px;line-height:10px;">2.2</div>
<div style="right:210.70px;top:465px;font-size:9.0px;line-height:10px;">1.7</div>
<div style="right:179.00px;top:465px;font-size:9.0px;line-height:10px;">1.4</div>
<div style="right:131.90px;top:465px;font-size:9.0px;line-height:10px;">9.5</div>
<div style="right:100.40px;top:465px;font-size:9.0px;line-height:10px;">3.0</div>
<div style="right:52.70px;top:465px;font-size:9.0px;line-height:10px;">5.6</div>
<div style="right:21.40px;top:465px;font-size:9.0px;line-height:10px;">1.7</div>
<div style="left:16.70px;top:476px;font-size:9.0px;line-height:10px;letter-spacing:-0.1px;">Broward County PS, FL</div>
<div style="right:468.30px;top:476px;font-size:9.0px;line-height:10px;">5.4</div>
<div style="right:440.30px;top:476px;font-size:9.0px;line-height:10px;">1.7</div>
<div style="right:393.60px;top:476px;font-size:9.0px;line-height:10px;">17.4</div>
<div style="right:364.30px;top:476px;font-size:9.0px;line-height:10px;">2.5</div>
<div style="right:317.00px;top:476px;font-size:9.0px;line-height:10px;">11.3</div>
<div style="right:282.90px;top:476px;font-size:9.0px;line-height:10px;">1.7</div>
<div style="right:210.70px;top:476px;font-size:9.0px;line-height:10px;">1.7</div>
<div style="right:179.00px;top:476px;font-size:9.0px;line-height:10px;">0.9</div>
<div style="right:131.90px;top:476px;font-size:9.0px;line-height:10px;">5.3</div>
<div style="right:100.40px;top:476px;font-size:9.0px;line-height:10px;">1.5</div>
<div style="right:52.70px;top:476px;font-size:9.0px;line-height:10px;">3.4</div>
<div style="right:21.40px;top:476px;font-size:9.0px;line-height:10px;">1.0</div>
<div style="left:16.70px;top:487px;font-size:9.0px;line-height:10px;letter-spacing:-0.1px;">Chicago PS, IL</div>
<div style="right:468.30px;top:487px;font-size:9.0px;line-height:10px;">14.5</div>
<div style="right:440.30px;top:487px;font-size:9.0px;line-height:10px;">4.5</div>
<div style="right:393.60px;top:487px;font-size:9.0px;line-height:10px;">24.6</div>
<div style="right:364.30px;top:487px;font-size:9.0px;line-height:10px;">4.4</div>
<div style="right:317.00px;top:487px;font-size:9.0px;line-height:10px;">19.4</div>
<div style="right:282.90px;top:487px;font-size:9.0px;line-height:10px;">4.0</div>
<div style="right:210.70px;top:487px;font-size:9.0px;line-height:10px;">3.8</div>
<div style="right:179.00px;top:487px;font-size:9.0px;line-height:10px;">1.5</div>
<div style="right:131.90px;top:487px;font-size:9.0px;line-height:10px;">11.2</div>
<div style="right:100.40px;top:487px;font-size:9.0px;line-height:10px;">2.5</div>
<div style="right:52.70px;top:487px;font-size:9.0px;line-height:10px;">7.4</div>
<div style="right:21.40px;top:487px;font-size:9.0px;line-height:10px;">1.6</div>
<div style="left:16.70px;top:498px;font-size:9.0px;line-height:10px;letter-spacing:-0.1px;">Dallas ISD, TX</div>
<div style="right:468.30px;top:498px;font-size:9.0px;line-height:10px;">9.9</div>
<div style="right:440.30px;top:498px;font-size:9.0px;line-height:10px;">2.3</div>
<div style="right:393.60px;top:498px;font-size:9.0px;line-height:10px;">27.0</div>
<div style="right:364.30px;top:498px;font-size:9.0px;line-height:10px;">3.6</div>
<div style="right:317.00px;top:498px;font-size:9.0px;line-height:10px;">18.2</div>
<div style="right:282.90px;top:498px;font-size:9.0px;line-height:10px;">2.2</div>
<div style="right:210.70px;top:498px;font-size:9.0px;line-height:10px;">2.5</div>
<div style="right:179.00px;top:498px;font-size:9.0px;line-height:10px;">1.2</div>
<div style="right:131.90px;top:498px;font-size:9.0px;line-height:10px;">11.9</div>
<div style="right:100.40px;top:498px;font-size:9.0px;line-height:10px;">3.0</div>
<div style="right:52.70px;top:498px;font-size:9.0px;line-height:10px;">7.1</div>
<div style="right:21.40px;top:498px;font-size:9.0px;line-height:10px;">1.6</div>
<div style="left:16.70px;top:509px;font-size:9.0px;line-height:10px;letter-spacing:-0.1px;">DeKalb County PS, GA</div>
<div style="right:468.30px;top:509px;font-size:9.0px;line-height:10px;">8.7</div>
<div style="right:440.30px;top:509px;font-size:9.0px;line-height:10px;">1.8</div>
<div style="right:393.60px;top:509px;font-size:9.0px;line-height:10px;">20.2</div>
<div style="right:364.30px;top:509px;font-size:9.0px;line-height:10px;">2.5</div>
<div style="right:317.00px;top:509px;font-size:9.0px;line-height:10px;">14.5</div>
<div style="right:282.90px;top:509px;font-size:9.0px;line-height:10px;">1.8</div>
<div style="right:210.70px;top:509px;font-size:9.0px;line-height:10px;">1.6</div>
<div style="right:179.00px;top:509px;font-size:9.0px;line-height:10px;">0.8</div>
<div style="right:131.90px;top:509px;font-size:9.0px;line-height:10px;">9.4</div>
<div style="right:100.40px;top:509px;font-size:9.0px;line-height:10px;">2.3</div>
<div style="right:52.70px;top:509px;font-size:9.0px;line-height:10px;">5.5</div>
<div style="right:21.40px;top:509px;font-size:9.0px;line-height:10px;">1.3</div>
<div style="left:16.70px;top:520px;font-size:9.0px;line-height:10px;letter-spacing:-0.1px;">Detroit PS, MI</div>
<div style="right:468.30px;top:520px;font-size:9.0px;line-height:10px;">14.6</div>
<div style="right:440.30px;top:520px;font-size:9.0px;line-height:10px;">3.4</div>
<div style="right:393.60px;top:520px;font-size:9.0px;line-height:10px;">23.1</div>
<div style="right:364.30px;top:520px;font-size:9.0px;line-height:10px;">3.3</div>
<div style="right:317.00px;top:520px;font-size:9.0px;line-height:10px;">18.6</div>
<div style="right:282.90px;top:520px;font-size:9.0px;line-height:10px;">2.5</div>
<div style="right:210.70px;top:520px;font-size:9.0px;line-height:10px;">2.9</div>
<div style="right:179.00px;top:520px;font-size:9.0px;line-height:10px;">1.4</div>
<div style="right:131.90px;top:520px;font-size:9.0px;line-height:10px;">13.1</div>
<div style="right:100.40px;top:520px;font-size:9.0px;line-height:10px;">3.3</div>
<div style="right:52.70px;top:520px;font-size:9.0px;line-height:10px;">7.8</div>
<div style="right:21.40px;top:520px;font-size:9.0px;line-height:10px;">1.8</div>
<div style="left:16.70px;top:531px;font-size:9.0px;line-height:10px;letter-spacing:-0.1px;">District of Columbia PS</div>
<div style="right:468.30px;top:531px;font-size:9.0px;line-height:10px;">19.0</div>
<div style="right:440.30px;top:531px;font-size:9.0px;line-height:10px;">3.0</div>
<div style="right:393.60px;top:531px;font-size:9.0px;line-height:10px;">31.5</div>
<div style="right:364.30px;top:531px;font-size:9.0px;line-height:10px;">4.4</div>
<div style="right:317.00px;top:531px;font-size:9.0px;line-height:10px;">25.0</div>
<div style="right:282.90px;top:531px;font-size:9.0px;line-height:10px;">2.7</div>
<div style="right:210.70px;top:531px;font-size:9.0px;line-height:10px;">3.0</div>
<div style="right:179.00px;top:531px;font-size:9.0px;line-height:10px;">1.3</div>
<div style="right:131.90px;top:531px;font-size:9.0px;line-height:10px;">13.5</div>
<div style="right:100.40px;top:531px;font-size:9.0px;line-height:10px;">3.1</div>
<div style="right:52.70px;top:531px;font-size:9.0px;line-height:10px;">8.1</div>
<div style="right:21.40px;top:531px;font-size:9.0px;line-height:10px;">1.6</div>
<div style="left:16.70px;top:542px;font-size:9.0px;line-height:10px;letter-spacing:-0.1px;">Los Angeles USD, CA</div>
<div style="right:468.30px;top:542px;font-size:9.0px;line-height:10px;">6.0</div>
<div style="right:440.30px;top:542px;font-size:9.0px;line-height:10px;">2.3</div>
<div style="right:393.60px;top:542px;font-size:9.0px;line-height:10px;">22.0</div>
<div style="right:364.30px;top:542px;font-size:9.0px;line-height:10px;">5.8</div>
<div style="right:317.00px;top:542px;font-size:9.0px;line-height:10px;">14.0</div>
<div style="right:282.90px;top:542px;font-size:9.0px;line-height:10px;">2.6</div>
<div style="right:210.70px;top:542px;font-size:9.0px;line-height:10px;">0.9</div>
<div style="right:179.00px;top:542px;font-size:9.0px;line-height:10px;">0.8</div>
<div style="right:131.90px;top:542px;font-size:9.0px;line-height:10px;">6.5</div>
<div style="right:100.40px;top:542px;font-size:9.0px;line-height:10px;">2.1</div>
<div style="right:52.70px;top:542px;font-size:9.0px;line-height:10px;">3.7</div>
<div style="right:21.40px;top:542px;font-size:9.0px;line-height:10px;">0.9</div>
<div style="left:16.70px;top:552px;font-size:9.0px;line-height:10px;letter-spacing:-0.1px;">Memphis PS, TN</div>
<div style="right:468.30px;top:552px;font-size:9.0px;line-height:10px;">10.6</div>
<div style="right:440.30px;top:552px;font-size:9.0px;line-height:10px;">2.2</div>
<div style="right:393.60px;top:552px;font-size:9.0px;line-height:10px;">20.8</div>
<div style="right:364.30px;top:552px;font-size:9.0px;line-height:10px;">3.1</div>
<div style="right:317.00px;top:552px;font-size:9.0px;line-height:10px;">15.7</div>
<div style="right:282.90px;top:552px;font-size:9.0px;line-height:10px;">2.3</div>
<div style="right:210.70px;top:552px;font-size:9.0px;line-height:10px;">1.2</div>
<div style="right:179.00px;top:552px;font-size:9.0px;line-height:10px;">0.8</div>
<div style="right:131.90px;top:552px;font-size:9.0px;line-height:10px;">10.3</div>
<div style="right:100.40px;top:552px;font-size:9.0px;line-height:10px;">2.4</div>
<div style="right:52.70px;top:552px;font-size:9.0px;line-height:10px;">5.8</div>
<div style="right:21.40px;top:552px;font-size:9.0px;line-height:10px;">1.4</div>
<div style="left:16.70px;top:563px;font-size:9.0px;line-height:10px;letter-spacing:-0.1px;">Miami-Dade County PS, FL</div>
<div style="right:468.30px;top:563px;font-size:9.0px;line-height:10px;">5.2</div>
<div style="right:440.30px;top:563px;font-size:9.0px;line-height:10px;">1.6</div>
<div style="right:393.60px;top:563px;font-size:9.0px;line-height:10px;">18.7</div>
<div style="right:364.30px;top:563px;font-size:9.0px;line-height:10px;">3.0</div>
<div style="right:317.00px;top:563px;font-size:9.0px;line-height:10px;">12.1</div>
<div style="right:282.90px;top:563px;font-size:9.0px;line-height:10px;">1.8</div>
<div style="right:210.70px;top:563px;font-size:9.0px;line-height:10px;">1.3</div>
<div style="right:179.00px;top:563px;font-size:9.0px;line-height:10px;">0.8</div>
<div style="right:131.90px;top:563px;font-size:9.0px;line-height:10px;">7.3</div>
<div style="right:100.40px;top:563px;font-size:9.0px;line-height:10px;">2.0</div>
<div style="right:52.70px;top:563px;font-size:9.0px;line-height:10px;">4.3</div>
<div style="right:21.40px;top:563px;font-size:9.0px;line-height:10px;">1.1</div>
<div style="left:16.70px;top:574px;font-size:9.0px;line-height:10px;letter-spacing:-0.1px;">Milwaukee PS, WI</div>
<div style="right:468.30px;top:574px;font-size:9.0px;line-height:10px;">13.9</div>
<div style="right:440.30px;top:574px;font-size:9.0px;line-height:10px;">2.6</div>
<div style="right:393.60px;top:574px;font-size:9.0px;line-height:10px;">24.8</div>
<div style="right:364.30px;top:574px;font-size:9.0px;line-height:10px;">4.6</div>
<div style="right:317.00px;top:574px;font-size:9.0px;line-height:10px;">19.2</div>
<div style="right:282.90px;top:574px;font-size:9.0px;line-height:10px;">3.0</div>
<div style="right:210.70px;top:574px;font-size:9.0px;line-height:10px;">2.5</div>
<div style="right:179.00px;top:574px;font-size:9.0px;line-height:10px;">1.3</div>
<div style="right:131.90px;top:574px;font-size:9.0px;line-height:10px;">13.8</div>
<div style="right:100.40px;top:574px;font-size:9.0px;line-height:10px;">3.7</div>
<div style="right:52.70px;top:574px;font-size:9.0px;line-height:10px;">8.1</div>
<div style="right:21.40px;top:574px;font-size:9.0px;line-height:10px;">2.1</div>
<div style="left:16.70px;top:585px;font-size:9.0px;line-height:10px;letter-spacing:-0.1px;">New Orleans PS, LA</div>
<div style="right:468.30px;top:585px;font-size:9.0px;line-height:10px;">9.8</div>
<div style="right:440.30px;top:585px;font-size:9.0px;line-height:10px;">1.9</div>
<div style="right:393.60px;top:585px;font-size:9.0px;line-height:10px;">23.2</div>
<div style="right:364.30px;top:585px;font-size:9.0px;line-height:10px;">3.9</div>
<div style="right:317.00px;top:585px;font-size:9.0px;line-height:10px;">16.3</div>
<div style="right:282.90px;top:585px;font-size:9.0px;line-height:10px;">2.6</div>
<div style="right:210.70px;top:585px;font-size:9.0px;line-height:10px;">2.6</div>
<div style="right:179.00px;top:585px;font-size:9.0px;line-height:10px;">0.9</div>
<div style="right:131.90px;top:585px;font-size:9.0px;line-height:10px;">15.8</div>
<div style="right:100.40px;top:585px;font-size:9.0px;line-height:10px;">3.2</div>
<div style="right:52.70px;top:585px;font-size:9.0px;line-height:10px;">8.9</div>
<div style="right:21.40px;top:585px;font-size:9.0px;line-height:10px;">1.8</div>
<div style="left:16.70px;top:596px;font-size:9.0px;line-height:10px;letter-spacing:-0.1px;">New York City PS, NY</div>
<div style="right:468.30px;top:596px;font-size:9.0px;line-height:10px;">7.4</div>
<div style="right:440.30px;top:596px;font-size:9.0px;line-height:10px;">1.4</div>
<div style="right:393.60px;top:596px;font-size:9.0px;line-height:10px;">23.0</div>
<div style="right:364.30px;top:596px;font-size:9.0px;line-height:10px;">2.5</div>
<div style="right:317.00px;top:596px;font-size:9.0px;line-height:10px;">15.1</div>
<div style="right:282.90px;top:596px;font-size:9.0px;line-height:10px;">1.8</div>
<div style="right:210.70px;top:596px;font-size:9.0px;line-height:10px;">1.0</div>
<div style="right:179.00px;top:596px;font-size:9.0px;line-height:10px;">0.5</div>
<div style="right:131.90px;top:596px;font-size:9.0px;line-height:10px;">6.7</div>
<div style="right:100.40px;top:596px;font-size:9.0px;line-height:10px;">1.4</div>
<div style="right:52.70px;top:596px;font-size:9.0px;line-height:10px;">3.8</div>
<div style="right:21.40px;top:596px;font-size:9.0px;line-height:10px;">0.9</div>
<div style="left:16.70px;top:607px;font-size:9.0px;line-height:10px;letter-spacing:-0.1px;">Orange County PS, FL</div>
<div style="right:468.30px;top:607px;font-size:9.0px;line-height:10px;">5.5</div>
<div style="right:440.30px;top:607px;font-size:9.0px;line-height:10px;">3.3</div>
<div style="right:393.60px;top:607px;font-size:9.0px;line-height:10px;">21.3</div>
<div style="right:364.30px;top:607px;font-size:9.0px;line-height:10px;">1.6</div>
<div style="right:317.00px;top:607px;font-size:9.0px;line-height:10px;">13.3</div>
<div style="right:282.90px;top:607px;font-size:9.0px;line-height:10px;">1.8</div>
<div style="right:210.70px;top:607px;font-size:9.0px;line-height:10px;">1.0</div>
<div style="right:179.00px;top:607px;font-size:9.0px;line-height:10px;">1.1</div>
<div style="right:131.90px;top:607px;font-size:9.0px;line-height:10px;">6.3</div>
<div style="right:100.40px;top:607px;font-size:9.0px;line-height:10px;">1.5</div>
<div style="right:52.70px;top:607px;font-size:9.0px;line-height:10px;">3.6</div>
<div style="right:21.40px;top:607px;font-size:9.0px;line-height:10px;">1.3</div>
<div style="left:16.70px;top:618px;font-size:9.0px;line-height:10px;letter-spacing:-0.1px;">Palm Beach County SD, FL</div>
<div style="right:468.30px;top:618px;font-size:9.0px;line-height:10px;">6.1</div>
<div style="right:440.30px;top:618px;font-size:9.0px;line-height:10px;">1.6</div>
<div style="right:393.60px;top:618px;font-size:9.0px;line-height:10px;">23.6</div>
<div style="right:364.30px;top:618px;font-size:9.0px;line-height:10px;">3.2</div>
<div style="right:317.00px;top:618px;font-size:9.0px;line-height:10px;">14.9</div>
<div style="right:282.90px;top:618px;font-size:9.0px;line-height:10px;">2.1</div>
<div style="right:210.70px;top:618px;font-size:9.0px;line-height:10px;">1.8</div>
<div style="right:179.00px;top:618px;font-size:9.0px;line-height:10px;">1.1</div>
<div style="right:131.90px;top:618px;font-size:9.0px;line-height:10px;">11.3</div>
<div style="right:100.40px;top:618px;font-size:9.0px;line-height:10px;">2.6</div>
<div style="right:52.70px;top:618px;font-size:9.0px;line-height:10px;">6.7</div>
<div style="right:21.40px;top:618px;font-size:9.0px;line-height:10px;">1.5</div>
<div style="left:16.70px;top:629px;font-size:9.0px;line-height:10px;letter-spacing:-0.1px;">Philadelphia SD, PA</div>
<div style="right:468.30px;top:629px;font-size:9.0px;line-height:10px;">10.7</div>
<div style="right:440.30px;top:629px;font-size:9.0px;line-height:10px;">2.4</div>
<div style="right:393.60px;top:629px;font-size:9.0px;line-height:10px;">22.7</div>
<div style="right:364.30px;top:629px;font-size:9.0px;line-height:10px;">3.7</div>
<div style="right:317.00px;top:629px;font-size:9.0px;line-height:10px;">16.8</div>
<div style="right:282.90px;top:629px;font-size:9.0px;line-height:10px;">2.2</div>
<div style="right:210.70px;top:629px;font-size:9.0px;line-height:10px;">1.9</div>
<div style="right:179.00px;top:629px;font-size:9.0px;line-height:10px;">1.1</div>
<div style="right:131.90px;top:629px;font-size:9.0px;line-height:10px;">10.5</div>
<div style="right:100.40px;top:629px;font-size:9.0px;line-height:10px;">3.6</div>
<div style="right:52.70px;top:629px;font-size:9.0px;line-height:10px;">6.3</div>
<div style="right:21.40px;top:629px;font-size:9.0px;line-height:10px;">2.0</div>
<div style="left:16.70px;top:639px;font-size:9.0px;line-height:10px;letter-spacing:-0.1px;">San Bernardino USD, CA</div>
<div style="right:468.30px;top:639px;font-size:9.0px;line-height:10px;">8.2</div>
<div style="right:440.30px;top:639px;font-size:9.0px;line-height:10px;">2.0</div>
<div style="right:393.60px;top:639px;font-size:9.0px;line-height:10px;">25.3</div>
<div style="right:364.30px;top:639px;font-size:9.0px;line-height:10px;">3.5</div>
<div style="right:317.00px;top:639px;font-size:9.0px;line-height:10px;">16.9</div>
<div style="right:282.90px;top:639px;font-size:9.0px;line-height:10px;">2.2</div>
<div style="right:210.70px;top:639px;font-size:9.0px;line-height:10px;">1.8</div>
<div style="right:179.00px;top:639px;font-size:9.0px;line-height:10px;">1.1</div>
<div style="right:131.90px;top:639px;font-size:9.0px;line-height:10px;">8.6</div>
<div style="right:100.40px;top:639px;font-size:9.0px;line-height:10px;">2.3</div>
<div style="right:52.70px;top:639px;font-size:9.0px;line-height:10px;">5.4</div>
<div style="right:21.40px;top:639px;font-size:9.0px;line-height:10px;">1.4</div>
<div style="left:16.70px;top:650px;font-size:9.0px;line-height:10px;letter-spacing:-0.1px;">San Diego USD, CA</div>
<div style="right:468.30px;top:650px;font-size:9.0px;line-height:10px;">5.8</div>
<div style="right:440.30px;top:650px;font-size:9.0px;line-height:10px;">1.9</div>
<div style="right:393.60px;top:650px;font-size:9.0px;line-height:10px;">23.1</div>
<div style="right:364.30px;top:650px;font-size:9.0px;line-height:10px;">3.9</div>
<div style="right:317.00px;top:650px;font-size:9.0px;line-height:10px;">14.7</div>
<div style="right:282.90px;top:650px;font-size:9.0px;line-height:10px;">2.3</div>
<div style="right:210.70px;top:650px;font-size:9.0px;line-height:10px;">1.2</div>
<div style="right:179.00px;top:650px;font-size:9.0px;line-height:10px;">0.7</div>
<div style="right:131.90px;top:650px;font-size:9.0px;line-height:10px;">6.5</div>
<div style="right:100.40px;top:650px;font-size:9.0px;line-height:10px;">2.1</div>
<div style="right:52.70px;top:650px;font-size:9.0px;line-height:10px;">4.0</div>
<div style="right:21.40px;top:650px;font-size:9.0px;line-height:10px;">1.2</div>
<div style="left:8.50px;top:663px;font-size:9.0px;line-height:10px;letter-spacing:0.1px;">Median</div>
<div style="left:116.00px;width:200px;text-align:center;top:663px;font-size:9.0px;line-height:10px;">8.5</div>
<div style="left:188.80px;width:200px;text-align:center;top:663px;font-size:9.0px;line-height:10px;">23.1</div>
<div style="left:265.20px;width:200px;text-align:center;top:663px;font-size:9.0px;line-height:10px;">16.0</div>
<div style="left:374.30px;width:200px;text-align:center;top:663px;font-size:9.0px;line-height:10px;">1.7</div>
<div style="left:450.60px;width:200px;text-align:center;top:663px;font-size:9.0px;line-height:10px;">9.9</div>
<div style="left:531.60px;width:200px;text-align:center;top:663px;font-size:9.0px;line-height:10px;">5.7</div>
<div style="left:8.50px;top:674px;font-size:9.0px;line-height:10px;letter-spacing:0.1px;">Range</div>
<div style="left:114.10px;width:200px;text-align:center;top:674px;font-size:9.0px;line-height:10px;">5.2-19.0</div>
<div style="left:189.70px;width:200px;text-align:center;top:674px;font-size:9.0px;line-height:10px;">17.4-31.5</div>
<div style="left:266.10px;width:200px;text-align:center;top:674px;font-size:9.0px;line-height:10px;">11.3-25.0</div>
<div style="left:372.30px;width:200px;text-align:center;top:674px;font-size:9.0px;line-height:10px;">0.9-3.8</div>
<div style="left:451.50px;width:200px;text-align:center;top:674px;font-size:9.0px;line-height:10px;">5.3-15.8</div>
<div style="left:530.50px;width:200px;text-align:center;top:674px;font-size:9.0px;line-height:10px;">3.4-8.9</div>
<div style="right:675.20px;top:690px;font-size:6.5px;line-height:7px;">*</div>
<div class="fn" style="left:19.60px;top:689px;font-size:8.65px;line-height:10px;">For example, a gun, knife, or club on <u>&gt;</u>1 of the 30 days preceding the survey.</div>
<div style="right:675.20px;top:696px;font-size:7.3px;line-height:9px;">†</div>
<div class="fn" style="left:19.60px;top:697px;font-size:8.65px;line-height:10px;">On <u>&gt;</u>1 of the 30 days preceding the survey.</div>
<div style="right:675.20px;top:705px;font-size:7.3px;line-height:9px;">§</div>
<div class="fn" style="left:19.60px;top:706px;font-size:8.65px;line-height:10px;">95% confidence interval.</div>
<div style="right:675.20px;top:714px;font-size:7.3px;line-height:9px;">¶</div>
<div class="fn" style="left:19.60px;top:715px;font-size:8.65px;line-height:10px;">Not available.</div>
<div style="right:675.20px;top:725px;font-size:6.5px;line-height:7px;">**</div>
<div class="fn" style="left:19.60px;top:724px;font-size:8.65px;line-height:10px;letter-spacing:0.025px;">Survey did not include students from one of the state’s large school districts.</div>
<div style="right:675.20px;top:732px;font-size:7.3px;line-height:9px;">††</div>
<div class="fn" style="left:19.60px;top:732px;font-size:8.65px;line-height:10px;letter-spacing:0.02px;">PS = public school, SD = school district, ISD = independent school district, USD = unified school district.</div>
</body></html>
